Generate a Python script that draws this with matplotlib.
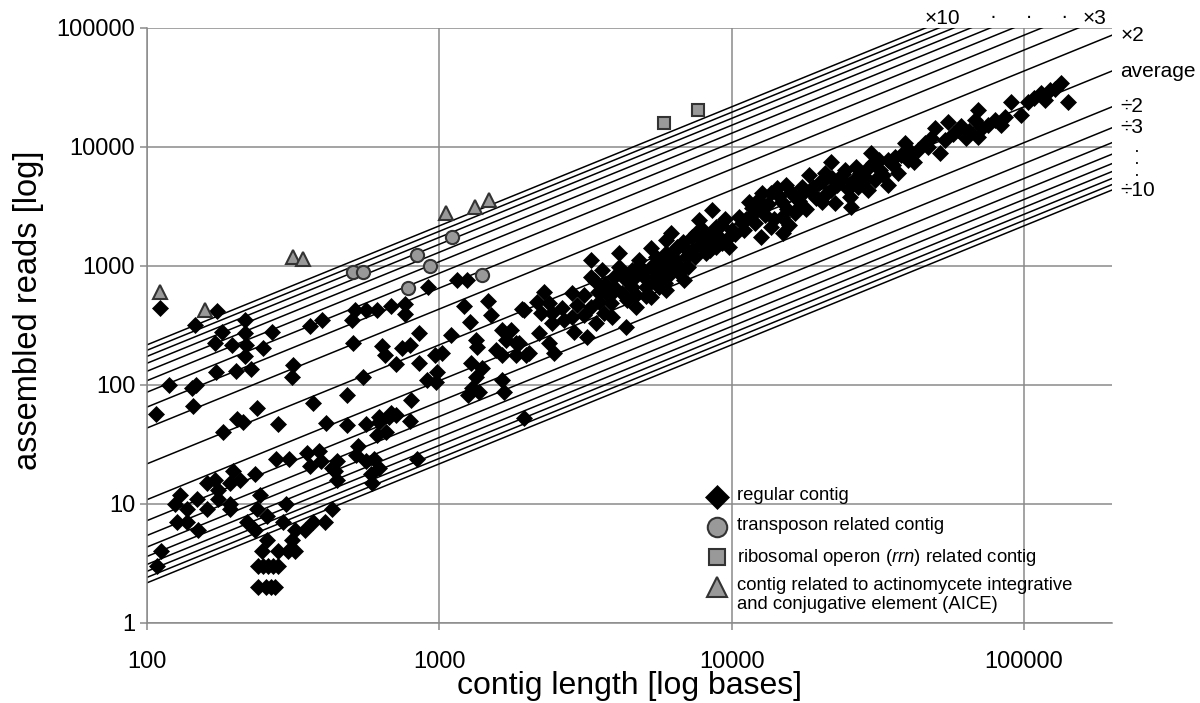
import matplotlib
matplotlib.use('Agg')
import numpy as np
import matplotlib.pyplot as plt
from matplotlib.ticker import NullLocator

plt.rcParams['font.family'] = ['Liberation Sans', 'DejaVu Sans']
plt.rcParams['mathtext.fontset'] = 'custom'
plt.rcParams['mathtext.it'] = 'Liberation Sans:italic'
plt.rcParams['mathtext.rm'] = 'Liberation Sans'

# contig length (bases) and assembled reads
regular = [
    (111, 444), (173, 419), (146, 319), (216, 352), (180, 279), (216, 274), (267, 279), (360, 313),
    (398, 352), (171, 225), (195, 217), (218, 217), (249, 205), (216, 175), (315, 147), (313, 117),
    (172, 129), (201, 131), (226, 136), (119, 100), (143, 94), (147, 100), (144, 67), (107, 57),
    (237, 64), (203, 52), (213, 49), (280, 47), (369, 71), (408, 48), (182, 40), (276, 24),
    (305, 24), (352, 27), (389, 28), (394, 23), (445, 23),
    (360, 21), (431, 20), (234, 18), (197, 19), (208, 16), (192, 15), (160, 15), (171, 16),
    (175, 13), (130, 12), (148, 11), (175, 11), (192, 10), (125, 10), (137, 9), (160, 9),
    (192, 9), (243, 12), (300, 10), (237, 9), (257, 8), (127, 7), (137, 7), (219, 7), (291, 7),
    (149, 6), (234, 6), (320, 6), (346, 6), (369, 7), (405, 7), (428, 9), (257, 5), (313, 5),
    (247, 4), (280, 4), (303, 4), (320, 4), (112, 4), (108, 3), (240, 3), (250, 3), (260, 3),
    (270, 3), (280, 3), (240, 2), (255, 2), (265, 2), (275, 2),
    (916, 666), (1151, 763), (1246, 763), (513, 427), (501, 352), (559, 427), (614, 427),
    (685, 461), (765, 480), (765, 395), (1217, 461), (1469, 508), (1919, 435), (1503, 387),
    (1276, 338), (855, 273), (1099, 263), (508, 225), (639, 213), (654, 179), (748, 205),
    (791, 217), (713, 150), (855, 153), (968, 179), (1023, 186), (1337, 239), (1347, 208),
    (1566, 197), (1641, 290), (1762, 290), (1694, 239), (1833, 225), (1641, 179), (1833, 179),
    (1982, 179), (1285, 153), (1402, 139), (1337, 117), (984, 129), (910, 110), (975, 106),
    (546, 117), (1297, 94), (1371, 87), (1256, 82), (1641, 110), (1667, 87), (485, 82),
    (802, 75), (685, 58), (623, 54),
    (485, 46), (563, 47), (623, 49), (675, 54), (713, 56), (791, 50), (610, 38), (659, 40),
    (525, 31), (520, 26), (563, 23), (600, 24), (623, 20), (586, 18), (590, 15), (438, 19),
    (448, 16), (841, 24), (1950, 53),
    (1950, 427), (1875, 225), (2028, 186), (2281, 605), (2158, 498), (2371, 489), (2226, 403),
    (2430, 403), (2628, 444), (2430, 332), (2673, 352), (2193, 274), (2371, 225), (2466, 186),
    (2845, 593), (3126, 570), (2960, 470), (2845, 373), (3126, 387), (2890, 279), (3199, 253),
    (3434, 332), (3302, 1122), (3302, 809), (3597, 925), (3572, 628), (3516, 498), (3866, 489),
    (3655, 403), (3891, 373), (3954, 809), (4111, 1285), (4111, 981), (4345, 763), (4214, 593),
    (4558, 666), (4345, 307), (4558, 925), (4819, 1122), (4933, 840), (4701, 570), (5083, 666),
    (5292, 1416), (5503, 1191), (5292, 981), (5503, 809), (5292, 548), (5640, 666), (5961, 1652),
    (6200, 1892), (5961, 1285), (6245, 1059), (6002, 809), (5961, 628), (6492, 1445), (6594, 873),
    (6853, 763), (6965, 1191), (7301, 1361), (7710, 2436), (7535, 1892), (8146, 1718),
    (8545, 2957), (8146, 1285), (8814, 1445), (8814, 2129),
    (9160, 2213), (8146, 1754), (8814, 1652), (8400, 1361), (9772, 1445), (10000, 2009),
    (10820, 2296), (11430, 3450), (11880, 2787), (12650, 4105), (12650, 2957), (12550, 1754),
    (13580, 2129), (13580, 4105), (14260, 4521), (15290, 4795), (14820, 3450), (15030, 1892),
    (15660, 2213), (14820, 2582), (16520, 2787), (16520, 3800), (17330, 4613), (16930, 3133),
    (18320, 5823), (18750, 4105), (19820, 4980), (20300, 3450), (20930, 6050), (21930, 7480),
    (21930, 4355), (22630, 3383), (23730, 5280), (24500, 6410), (25460, 3800), (25690, 3133),
    (26720, 6790), (27120, 4613), (28640, 5600), (30060, 8910), (30530, 7340), (29360, 4355),
    (32250, 6410), (34360, 7780), (34360, 4795), (36310, 8240),
    (37150, 6050), (39260, 10800), (40180, 7780), (43450, 9440), (45920, 10800), (49660, 14450),
    (51640, 8910), (55030, 16240), (53700, 11450), (59550, 13900), (63390, 11920), (69660, 20470),
    (68040, 16870), (69660, 12140), (75330, 15310), (79600, 16870), (83500, 15310), (90360, 23880),
    (97700, 18580), (103200, 23880), (114400, 28430), (118000, 24840), (122700, 30130),
    (133800, 34510), (141200, 23880),
    # overlapping marks inside the dense band
    (3300, 450), (3500, 600), (3700, 700), (3400, 750), (3800, 560), (4000, 650), (4200, 850),
    (4400, 520), (4600, 780), (4700, 450), (4800, 1000), (5000, 900), (5100, 560), (5300, 750),
    (5500, 1000), (5700, 880), (5800, 1100), (5900, 720), (6100, 950), (6300, 1300), (6400, 1150),
    (6600, 1000), (6800, 1600), (7000, 1400), (7100, 980), (7300, 1750), (7500, 1200),
    (7800, 1500), (8000, 2000), (8300, 1600), (8600, 1900), (9000, 1800), (9300, 1550),
    (9500, 2500), (9800, 1750), (10300, 1850), (10600, 2600), (11000, 2000), (11200, 2500),
    (11700, 3100), (12000, 2300), (12300, 3600), (13000, 2700), (13300, 3300), (14000, 2500),
    (14500, 3900), (15500, 3000), (16000, 4200), (17000, 3500), (17800, 4300), (18000, 3000),
    (19000, 4600), (19500, 3700), (20500, 5200), (21000, 4000), (22000, 5500), (23000, 4800),
    (24000, 5900), (25000, 4400), (26000, 5200), (27500, 6000), (28000, 5000), (29500, 6800),
    (31000, 5300), (32000, 7800), (33000, 5800), (35500, 7000), (38000, 8500), (41000, 9000),
    (42000, 7500), (47000, 10000), (48000, 12000), (57000, 12800), (61000, 15000),
    (65000, 13500), (72000, 14500), (86000, 18000), (108000, 26000), (128000, 31000),
]
regular_len = [p[0] for p in regular]
regular_reads = [p[1] for p in regular]

transposon_len = [505, 546, 841, 1107, 931, 783, 1402]
transposon_reads = [891, 891, 1237, 1754, 1000, 653, 840]

rrn_len = [5863, 7656]
rrn_reads = [15900, 20470]

aice_len = [111, 158, 315, 341, 1057, 1327, 1483]
aice_reads = [604, 427, 1191, 1145, 2787, 3133, 3590]

avg_rate = 0.2175  # average reads per base
folds_up = [10, 9, 8, 7, 6, 5, 4, 3, 2]
folds_down = [2, 3, 4, 5, 6, 7, 8, 9, 10]

xticks = [100, 1000, 10000, 100000]
yticks = [1, 10, 100, 1000, 10000, 100000]

grey = '#8a8a8a'
fill = '#999999'
edge = '#333333'

fig = plt.figure(figsize=(12, 7.03), dpi=100)
ax = fig.add_axes([0.1225, 0.1138, 0.8042, 0.8464])
ax.set_xscale('log')
ax.set_yscale('log')
ax.set_xlim(100, 200000)
ax.set_ylim(1, 100000)

# reference lines: average and multiples of it
xl = np.array([100.0, 200000.0])
rates = [avg_rate * k for k in folds_up] + [avg_rate] + [avg_rate / k for k in folds_down]
for r in rates:
    ax.plot(xl, r * xl, color='black', lw=1.1, zorder=2)

ax.plot(regular_len, regular_reads, linestyle='none', marker='D', ms=8,
        mfc='black', mec='black', mew=0.5, zorder=3)
ax.plot(transposon_len, transposon_reads, linestyle='none', marker='o', ms=9.5,
        mfc=fill, mec=edge, mew=1.5, zorder=4)
ax.plot(rrn_len, rrn_reads, linestyle='none', marker='s', ms=8.5,
        mfc=fill, mec=edge, mew=1.5, zorder=4)
ax.plot(aice_len, aice_reads, linestyle='none', marker='^', ms=10.5,
        mfc=fill, mec=edge, mew=1.5, zorder=4)

# axes styling
ax.grid(True, which='major', color=grey, lw=1.1, zorder=0)
ax.set_axisbelow(True)
ax.xaxis.set_minor_locator(NullLocator())
ax.yaxis.set_minor_locator(NullLocator())
ax.set_xticks(xticks)
ax.set_xticklabels([str(t) for t in xticks])
ax.set_yticks(yticks)
ax.set_yticklabels([str(t) for t in yticks])
ax.tick_params(axis='both', colors=grey, labelcolor='black', labelsize=17, length=5, width=1.1)
ax.tick_params(axis='x', pad=15)
for s in ['top', 'right']:
    ax.spines[s].set_visible(False)
for s in ['left', 'bottom']:
    ax.spines[s].set_color(grey)
    ax.spines[s].set_linewidth(1.1)

ax.set_xlabel('contig length [log bases]', fontsize=23)
ax.set_ylabel('assembled reads [log]', fontsize=23.5)
ax.xaxis.set_label_coords(0.5, -0.0815)
ax.yaxis.set_label_coords(-0.107, 0.526)

# line labels
lab_fs = 15
xr = 200000
for txt, r in [('×2', avg_rate * 2), ('average', avg_rate), ('÷2', avg_rate / 2),
               ('÷3', avg_rate / 3), ('÷10', avg_rate / 10)]:
    ax.annotate(txt, xy=(xr, r * xr), xytext=(6, 0), textcoords='offset points',
                ha='left', va='center', fontsize=lab_fs, annotation_clip=False)
ax.annotate('·\n·\n·', xy=(xr, avg_rate / 6 * xr), xytext=(18, 0), textcoords='offset points',
            ha='center', va='center', fontsize=lab_fs - 2, linespacing=0.62,
            annotation_clip=False)
for txt, k in [('×10', 10), ('×3', 3)]:
    ax.annotate(txt, xy=(100000 / (avg_rate * k), 100000), xytext=(12, 7),
                textcoords='offset points', ha='center', va='center', fontsize=lab_fs,
                annotation_clip=False)
ax.annotate('·     ·     ·', xy=(100000 / (avg_rate * 5), 100000), xytext=(11, 8),
            textcoords='offset points', ha='center', va='center', fontsize=lab_fs,
            annotation_clip=False)

# legend key, drawn by hand so the two-line entry sits like the original
key_x, text_x = 0.5907, 0.6114
key_rows = [0.2118, 0.1613, 0.1109, 0.0605]
key_styles = [
    dict(marker='D', ms=12, mfc='black', mec='black', mew=0.5),
    dict(marker='o', ms=14, mfc=fill, mec=edge, mew=1.5),
    dict(marker='s', ms=11, mfc=fill, mec=edge, mew=1.5),
    dict(marker='^', ms=15, mfc=fill, mec=edge, mew=1.5),
]
key_labels = ['regular contig', 'transposon related contig',
              'ribosomal operon ($\\it{rrn}$) related contig',
              'contig related to actinomycete integrative\nand conjugative element (AICE)']
for yk, st, lab in zip(key_rows, key_styles, key_labels):
    ax.plot([key_x], [yk], linestyle='none', transform=ax.transAxes, clip_on=False,
            zorder=5, **st)
    ax.text(text_x, yk + 0.017, lab, transform=ax.transAxes, ha='left', va='top',
            fontsize=13.3, linespacing=1.15, zorder=5)

fig.savefig('out.png', dpi=100)
